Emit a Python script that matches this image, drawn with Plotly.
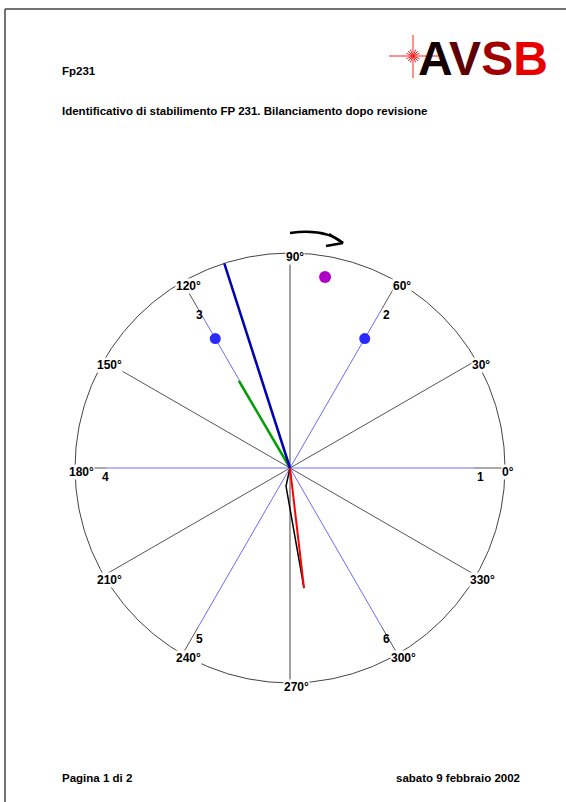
import numpy as np
import plotly.graph_objects as go

# ---------------- data ----------------
blade_angles = [0, 60, 120, 180, 240, 300]
blade_labels = ["1", "2", "3", "4", "5", "6"]
other_angles = [30, 150, 210, 330]
vertical_angles = [90, 270]
degree_ticks = [0, 30, 60, 90, 120, 150, 180, 210, 240, 270, 300, 330]
degree_labels = [f"{a}°" for a in degree_ticks]
blade_line_r = 0.856

weight_angles = [60, 120]
weight_r = [0.695, 0.695]
trial_angle = [79.6]
trial_r = [0.903]

blue_vec_angle, blue_vec_r = 107.8, 1.0
green_vec_angle, green_vec_r = 120.4, 0.47
red_vec_angle, red_vec_r = 276.65, 0.562
black_path_angles = [0, 257.5, 276.65]
black_path_r = [0, 0.086, 0.562]

header_id = "Fp231"
title_text = "Identificativo di stabilimento FP 231. Bilanciamento dopo revisione"
footer_left = "Pagina 1 di 2"
footer_right = "sabato 9 febbraio 2002"

# ---------------- layout helpers ----------------
W, H = 566, 802
CX, CY, SCALE = 290, 468, 215  # circle centre (px) and radius (px)
FONT = "Arial, Liberation Sans, sans-serif"


def pol(r, a):
    r = np.asarray(r, dtype=float)
    a = np.radians(np.asarray(a, dtype=float))
    return r * np.cos(a), r * np.sin(a)


def px2d(px, py):
    return (px - CX) / SCALE, (CY - py) / SCALE


def pp(px, py):
    return px / W, 1 - py / H


fig = go.Figure()

# circle
fig.add_shape(type="circle", xref="x", yref="y", x0=-1, y0=-1, x1=1, y1=1,
              line=dict(color="#444444", width=1), layer="below")

# vertical spokes
for a in vertical_angles:
    x, y = pol([0, 1], [a, a])
    fig.add_trace(go.Scatter(x=x, y=y, mode="lines", line=dict(color="#a0a0a0", width=2),
                             hoverinfo="skip", showlegend=False))
# other spokes
for a in other_angles:
    x, y = pol([0, 1], [a, a])
    fig.add_trace(go.Scatter(x=x, y=y, mode="lines", line=dict(color="#555555", width=1),
                             hoverinfo="skip", showlegend=False))
# blade spokes: blue inner, grey outer
for a in blade_angles:
    x, y = pol([blade_line_r, 1], [a, a])
    fig.add_trace(go.Scatter(x=x, y=y, mode="lines", line=dict(color="#555555", width=1),
                             hoverinfo="skip", showlegend=False))
    x, y = pol([0, blade_line_r], [a, a])
    fig.add_trace(go.Scatter(x=x, y=y, mode="lines", line=dict(color="#6a6aff", width=1),
                             hoverinfo="skip", showlegend=False))

# vectors
x, y = pol([0, green_vec_r], [green_vec_angle] * 2)
fig.add_trace(go.Scatter(x=x, y=y, mode="lines", line=dict(color="#00a000", width=2.5),
                         hoverinfo="skip", showlegend=False))
x, y = pol([0, blue_vec_r], [blue_vec_angle] * 2)
fig.add_trace(go.Scatter(x=x, y=y, mode="lines", line=dict(color="#0000b4", width=2.5),
                         hoverinfo="skip", showlegend=False))
x, y = pol(black_path_r, black_path_angles)
fig.add_trace(go.Scatter(x=x, y=y, mode="lines", line=dict(color="#000000", width=1.5),
                         hoverinfo="skip", showlegend=False))
x, y = pol([0, red_vec_r], [red_vec_angle] * 2)
fig.add_trace(go.Scatter(x=x, y=y, mode="lines", line=dict(color="#ff0000", width=2),
                         hoverinfo="skip", showlegend=False))

# dots
x, y = pol(weight_r, weight_angles)
fig.add_trace(go.Scatter(x=x, y=y, mode="markers", marker=dict(color="#2a2aff", size=11),
                         hoverinfo="skip", showlegend=False))
x, y = pol(trial_r, trial_angle)
fig.add_trace(go.Scatter(x=x, y=y, mode="markers", marker=dict(color="#b000c8", size=12),
                         hoverinfo="skip", showlegend=False))

annotations = []
# degree labels
for a, lab in zip(degree_ticks, degree_labels):
    x, y = pol(1, a)
    ndig = len(str(a))
    annotations.append(dict(x=float(x), y=float(y), xref="x", yref="y", text=f"<b>{lab}</b>",
                            showarrow=False, xanchor="center", yanchor="middle",
                            xshift=1.5 + 1.5 * ndig, yshift=-4, bgcolor="white", borderpad=0,
                            font=dict(family=FONT, size=12, color="black")))
# blade labels
for a, lab in zip(blade_angles, blade_labels):
    x, y = pol(0.87, a)
    annotations.append(dict(x=float(x), y=float(y), xref="x", yref="y", text=f"<b>{lab}</b>",
                            showarrow=False, xanchor="center", yanchor="middle",
                            xshift=3, yshift=-9,
                            font=dict(family=FONT, size=12, color="black")))

# header / footer texts
for txt, (px_, py_), anchor in [(header_id, (60, 71), "left"), (title_text, (60, 111), "left"),
                                (footer_left, (60, 778), "left"), (footer_right, (522, 778), "right")]:
    xx, yy = pp(px_, py_)
    annotations.append(dict(x=xx, y=yy, xref="paper", yref="paper", text=f"<b>{txt}</b>",
                            showarrow=False, xanchor=anchor, yanchor="middle",
                            font=dict(family=FONT, size=11.5, color="black")))

# logo
lx, ly = pp(483, 58)
annotations.append(dict(x=lx, y=ly, xref="paper", yref="paper",
                        text=("<b><span style='color:#150000'>A</span>"
                              "<span style='color:#5e0000'>V</span>"
                              "<span style='color:#a00000'>S</span>"
                              "<span style='color:#e80000'>B</span></b>"),
                        showarrow=False, xanchor="center", yanchor="middle",
                        font=dict(family=FONT, size=48, color="black")))
fig.update_layout(annotations=annotations)

shapes = []
# star burst of logo
sx, sy = 413, 56
for (x0, y0, x1, y1) in [(389, sy, 440, sy), (sx, 35, sx, 78)]:
    a0 = pp(x0, y0); a1 = pp(x1, y1)
    shapes.append(dict(type="line", xref="paper", yref="paper", x0=a0[0], y0=a0[1], x1=a1[0], y1=a1[1],
                       line=dict(color="#ff2020", width=1)))
for ang in [22.5, 45, 67.5, 112.5, 135, 157.5, 202.5, 225, 247.5, 292.5, 315, 337.5]:
    rr = 7
    a0 = pp(sx, sy); a1 = pp(sx + rr * np.cos(np.radians(ang)), sy - rr * np.sin(np.radians(ang)))
    shapes.append(dict(type="line", xref="paper", yref="paper", x0=a0[0], y0=a0[1], x1=a1[0], y1=a1[1],
                       line=dict(color="#ff2020", width=1)))
# page border
for (x0, y0, x1, y1) in [(5, 9, 566, 9), (5, 9, 5, 802)]:
    a0 = pp(x0, y0); a1 = pp(x1, y1)
    shapes.append(dict(type="line", xref="paper", yref="paper", x0=a0[0], y0=a0[1], x1=a1[0], y1=a1[1],
                       line=dict(color="#444444", width=1.5)))
# rotation arrow
p0 = px2d(290, 233); pc = px2d(325, 228); p1 = px2d(343, 243)
shapes.append(dict(type="path", xref="x", yref="y",
                   path=f"M {p0[0]},{p0[1]} Q {pc[0]},{pc[1]} {p1[0]},{p1[1]}",
                   line=dict(color="black", width=2.5)))
for b in [(329, 234), (326, 246)]:
    q = px2d(*b)
    shapes.append(dict(type="line", xref="x", yref="y", x0=p1[0], y0=p1[1], x1=q[0], y1=q[1],
                       line=dict(color="black", width=2.5)))
for s in shapes:
    fig.add_shape(**s)

x0, y0 = px2d(0, H)
x1, y1 = px2d(W, 0)
fig.update_layout(
    width=W, height=H, margin=dict(l=0, r=0, t=0, b=0),
    paper_bgcolor="white", plot_bgcolor="white",
    xaxis=dict(range=[x0, x1], visible=False, fixedrange=True),
    yaxis=dict(range=[y0, y1], visible=False, fixedrange=True),
    showlegend=False,
)

fig.write_html("out.html", config={"displayModeBar": False},
               post_script="document.body.style.margin='0';document.body.style.overflow='hidden';")
